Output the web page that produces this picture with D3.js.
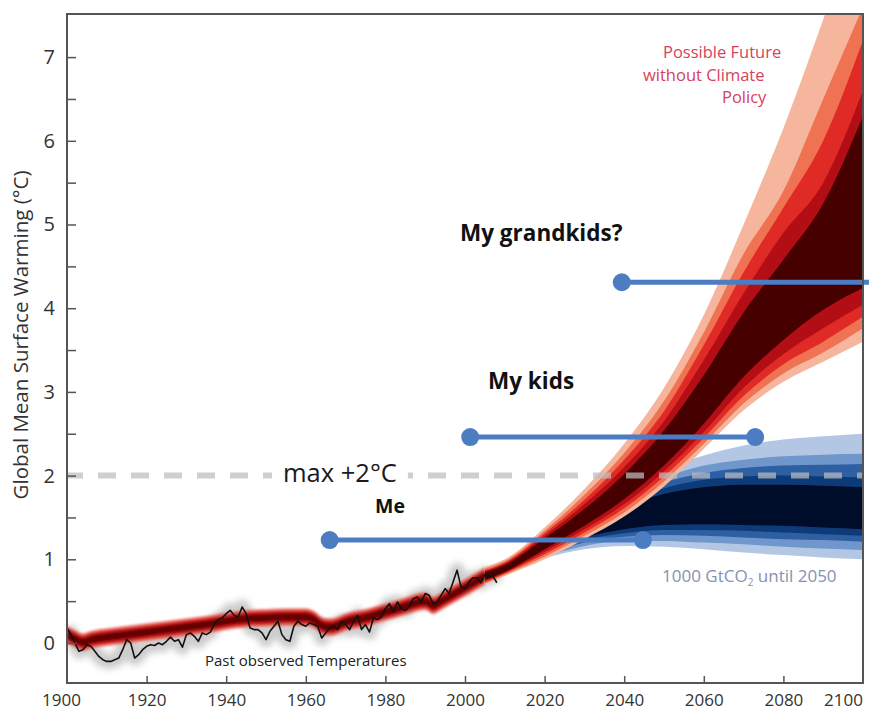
<!DOCTYPE html>
<html><head><meta charset="utf-8">
<script src="https://cdn.jsdelivr.net/npm/d3@7"></script>
<style>body{margin:0;background:#fff}svg{display:block}text{font-family:"Open Sans",sans-serif}</style>
</head><body>
<svg id="c" width="869" height="713"></svg>
<script>
// ---------- DATA ----------
const obsStartYear = 1900;
const obsTemps = [
 0.18,0.10,0.00,-0.10,-0.08,-0.02,-0.04,-0.10,-0.16,-0.20,
 -0.22,-0.22,-0.20,-0.18,-0.08,0.04,0.00,-0.18,-0.14,-0.08,
 -0.04,-0.02,-0.03,0.00,-0.02,0.02,0.07,0.02,0.04,-0.05,
 0.10,0.12,0.08,0.02,0.12,0.10,0.13,0.22,0.28,0.30,
 0.35,0.39,0.33,0.31,0.43,0.35,0.18,0.16,0.16,0.12,
 0.04,0.14,0.20,0.26,0.10,0.04,0.02,0.20,0.26,0.22,
 0.20,0.24,0.22,0.20,0.06,0.12,0.18,0.20,0.16,0.26,
 0.22,0.16,0.26,0.33,0.16,0.22,0.13,0.30,0.28,0.31,
 0.41,0.47,0.37,0.49,0.41,0.39,0.43,0.53,0.55,0.49,
 0.59,0.57,0.47,0.49,0.57,0.65,0.59,0.73,0.87,0.67,
 0.65,0.73,0.78,0.78,0.72,0.82,0.78,0.80,0.72];

const histYears = [1900,1902,1904,1906,1910,1915,1920,1925,1930,1935,1940,1945,1950,1955,1960,1962,1964,1966,1968,1970,1975,1980,1985,1990,1992,1994,2000,2005];
const histMean  = [0.10,0.05,0.01,0.04,0.07,0.10,0.13,0.16,0.19,0.22,0.26,0.29,0.30,0.31,0.31,0.28,0.21,0.19,0.21,0.25,0.30,0.37,0.44,0.50,0.45,0.50,0.66,0.80];
const histHalfWidths = [0.105, 0.075, 0.042];

const futYears = [2005,2010,2020,2030,2040,2050,2060,2070,2080,2090,2100];
const redUp1 = [0.91,1.00,1.38,1.84,2.38,3.05,3.92,5.00,6.15,7.45,8.80];
const redUp2 = [0.89,0.98,1.34,1.77,2.27,2.89,3.71,4.65,5.40,6.50,7.60];
const redUp3 = [0.87,0.96,1.31,1.71,2.19,2.77,3.56,4.43,5.20,6.00,7.20];
const redUp4 = [0.86,0.95,1.28,1.66,2.10,2.65,3.38,4.18,4.90,5.50,6.60];
const redUp5 = [0.845,0.93,1.25,1.60,2.02,2.54,3.20,3.95,4.58,5.25,6.30];
const redLo5 = [0.755,0.85,1.12,1.40,1.72,2.12,2.62,3.18,3.62,3.98,4.24];
const redLo4 = [0.74,0.84,1.09,1.36,1.66,2.05,2.52,3.05,3.45,3.76,4.04];
const redLo3 = [0.725,0.83,1.06,1.32,1.61,1.99,2.45,2.95,3.33,3.60,3.90];
const redLo2 = [0.71,0.815,1.03,1.28,1.56,1.93,2.38,2.86,3.22,3.47,3.76];
const redLo1 = [0.70,0.80,1.00,1.24,1.51,1.87,2.32,2.78,3.12,3.36,3.60];

const blueYears = [2010,2020,2030,2040,2050,2060,2070,2080,2090,2100];
const blueUp1 = [0.95,1.28,1.62,1.88,2.08,2.24,2.36,2.43,2.47,2.50];
const blueUp2 = [0.93,1.25,1.56,1.80,1.98,2.12,2.19,2.23,2.25,2.26];
const blueUp3 = [0.92,1.23,1.52,1.75,1.92,2.03,2.09,2.12,2.13,2.14];
const blueUp4 = [0.91,1.21,1.48,1.70,1.85,1.95,1.99,2.00,1.99,1.98];
const blueUp5 = [0.90,1.19,1.44,1.64,1.78,1.86,1.89,1.89,1.88,1.86];
const blueLo5 = [0.86,1.09,1.26,1.36,1.41,1.42,1.41,1.40,1.38,1.36];
const blueLo4 = [0.85,1.07,1.23,1.31,1.35,1.35,1.34,1.32,1.30,1.28];
const blueLo3 = [0.84,1.05,1.20,1.27,1.29,1.28,1.26,1.24,1.23,1.21];
const blueLo2 = [0.83,1.03,1.16,1.22,1.22,1.20,1.18,1.15,1.13,1.11];
const blueLo1 = [0.82,1.01,1.12,1.16,1.15,1.12,1.08,1.05,1.02,1.00];

const limitValue = 2.0;
const genLabels = ["Me","My kids","My grandkids?"];
const genStart  = [1966.0, 2001.3, 2039.4];
const genEnd    = [2044.7, 2072.9, 2101.5];
const genLevel  = [1.23, 2.46, 4.31];

const xTicks = [1900,1920,1940,1960,1980,2000,2020,2040,2060,2080,2100];
const yTicks = [0,0.5,1,1.5,2,2.5,3,3.5,4,4.5,5,5.5,6,6.5,7];

// ---------- CHART ----------
const svg = d3.select("#c");
const x = d3.scaleLinear().domain([1900,2100]).range([67,863]);
const y = d3.scaleLinear().domain([-0.478,7.515]).range([683,14]);

const defs = svg.append("defs");
defs.append("clipPath").attr("id","plot").append("rect")
  .attr("x",67).attr("y",14).attr("width",796).attr("height",669);
defs.append("filter").attr("id","blur2").attr("x","-5%").attr("y","-50%").attr("width","110%").attr("height","200%")
  .append("feGaussianBlur").attr("stdDeviation",1.3);
defs.append("filter").attr("id","blur4").attr("x","-5%").attr("y","-50%").attr("width","110%").attr("height","200%")
  .append("feGaussianBlur").attr("stdDeviation",3);
defs.append("filter").attr("id","blurS").append("feGaussianBlur").attr("stdDeviation",0.7);

const g = svg.append("g").attr("clip-path","url(#plot)");

function bandArea(years, lo, hi){
  return d3.area().curve(d3.curveMonotoneX)
    .x((d,i)=>x(years[i])).y0((d,i)=>y(lo[i])).y1((d,i)=>y(hi[i]))(years);
}

// blue scenario
const blueLayers = [[blueLo1,blueUp1,"#b3c7e4"],[blueLo2,blueUp2,"#6f97cc"],[blueLo3,blueUp3,"#2e5fa3"],[blueLo4,blueUp4,"#103a78"],[blueLo5,blueUp5,"#03092c"]];
const gb = g.append("g").attr("filter","url(#blurS)");
blueLayers.forEach(L=>gb.append("path").attr("d",bandArea(blueYears,L[0],L[1])).attr("fill",L[2]));

// observed uncertainty (grey)
const obsYears = obsTemps.map((v,i)=>obsStartYear+i);
const obsLine = d3.line().x((d,i)=>x(obsYears[i])).y(d=>y(d));
g.append("path").attr("d",obsLine(obsTemps)).attr("fill","none")
  .attr("stroke","#cdcdcd").attr("stroke-width",15).attr("stroke-linejoin","round").attr("filter","url(#blur4)");

// historical model band
const histColors = ["#ec4a3c","#c0181a","#640000"];
const gh = g.append("g").attr("filter","url(#blur2)");
histHalfWidths.forEach((w,k)=>{
  gh.append("path").attr("d",d3.area().curve(d3.curveMonotoneX)
    .x((d,i)=>x(histYears[i])).y0(d=>y(d-w)).y1(d=>y(d+w))(histMean))
    .attr("fill",histColors[k]).attr("opacity",k==0?0.75:1);
});

// future red fan
const redLayers = [[redLo1,redUp1,"#f6b59d"],[redLo2,redUp2,"#ef7252"],[redLo3,redUp3,"#e02a25"],[redLo4,redUp4,"#b30f12"],[redLo5,redUp5,"#460000"]];
const gr = g.append("g").attr("filter","url(#blurS)");
redLayers.forEach(L=>gr.append("path").attr("d",bandArea(futYears,L[0],L[1])).attr("fill",L[2]));

// observed line
g.append("path").attr("d",obsLine(obsTemps)).attr("fill","none")
  .attr("stroke","#111").attr("stroke-width",1.6).attr("stroke-linejoin","round");

// 2 degree dashed line
g.append("line").attr("x1",x(1900)).attr("x2",x(2100)).attr("y1",y(limitValue)).attr("y2",y(limitValue))
  .attr("stroke","#bdbdbd").attr("stroke-opacity",0.72).attr("stroke-width",6)
  .attr("stroke-dasharray","18,15").attr("stroke-dashoffset",2);

// label for the limit, with white backing
const maxT = svg.append("text").attr("x",283).attr("y",y(limitValue)+6)
  .attr("font-size",25.5).attr("fill","#1a1a1a").text("max +2°C");
const bb = maxT.node().getBBox();
svg.insert("rect","text").attr("x",bb.x-11).attr("y",y(limitValue)-5).attr("width",bb.width+22).attr("height",10).attr("fill","#fff");

// generation lines
const blue = "#4c7cc1";
genLabels.forEach((lab,i)=>{
  svg.append("line").attr("x1",x(genStart[i])).attr("x2",x(genEnd[i]))
    .attr("y1",y(genLevel[i])).attr("y2",y(genLevel[i]))
    .attr("stroke",blue).attr("stroke-width",5);
  svg.append("circle").attr("cx",x(genStart[i])).attr("cy",y(genLevel[i])).attr("r",9).attr("fill",blue);
  if(i<2) svg.append("circle").attr("cx",x(genEnd[i])).attr("cy",y(genLevel[i])).attr("r",9).attr("fill",blue);
});
const labPos = [[375,513],[488,389],[460,241]];
const labSize = [19.5,22.5,22.5];
genLabels.forEach((lab,i)=>svg.append("text").attr("x",labPos[i][0]).attr("y",labPos[i][1])
  .attr("font-size",labSize[i]).attr("font-weight","bold").attr("fill","#111").text(lab));

// annotations
const fut = svg.append("g").attr("fill","#d6425a").attr("font-size",16.5);
fut.append("text").attr("x",663).attr("y",58).text("Possible Future");
fut.append("text").attr("x",643).attr("y",81).text("without Climate");
fut.append("text").attr("x",722).attr("y",103).text("Policy");

const gt = svg.append("text").attr("x",662).attr("y",582).attr("font-size",17).attr("fill","#8791b3");
gt.append("tspan").text("1000 GtCO");
gt.append("tspan").attr("font-size",10).attr("dy",4).text("2");
gt.append("tspan").attr("dy",-4).text(" until 2050");

svg.append("text").attr("x",205).attr("y",666).attr("font-size",15).attr("fill","#222").text("Past observed Temperatures");

// frame & axes
svg.append("rect").attr("x",67).attr("y",14).attr("width",796).attr("height",669)
  .attr("fill","none").attr("stroke","#555").attr("stroke-width",2);

const yAxis = svg.append("g").attr("transform","translate(67,0)")
  .call(d3.axisLeft(y).tickValues(yTicks).tickSizeInner(-9).tickSizeOuter(0).tickPadding(12)
  .tickFormat(d=>Number.isInteger(d)?d:""));
yAxis.select(".domain").remove();
yAxis.selectAll("line").attr("stroke","#555").attr("stroke-width",1.5);
yAxis.selectAll("text").attr("font-size",20).attr("fill","#333").attr("font-family","'Open Sans',sans-serif");

const xAxis = svg.append("g").attr("transform","translate(0,683)")
  .call(d3.axisBottom(x).tickValues(xTicks).tickSizeInner(-7).tickSizeOuter(0).tickPadding(11).tickFormat(d3.format("d")));
xAxis.select(".domain").remove();
xAxis.selectAll("line").attr("stroke","#555").attr("stroke-width",1.5)
  .attr("display",d=>(d===1900||d===2100)?"none":null);
xAxis.selectAll("text").attr("font-size",17).attr("fill","#333").attr("font-family","'Open Sans',sans-serif")
  .attr("dx",d=>d===1900?-6:(d===2100?-20:0));

svg.append("text").attr("transform","translate(28,335) rotate(-90)").attr("text-anchor","middle")
  .attr("font-size",20.5).attr("fill","#333").text("Global Mean Surface Warming (°C)");
</script>
</body></html>
